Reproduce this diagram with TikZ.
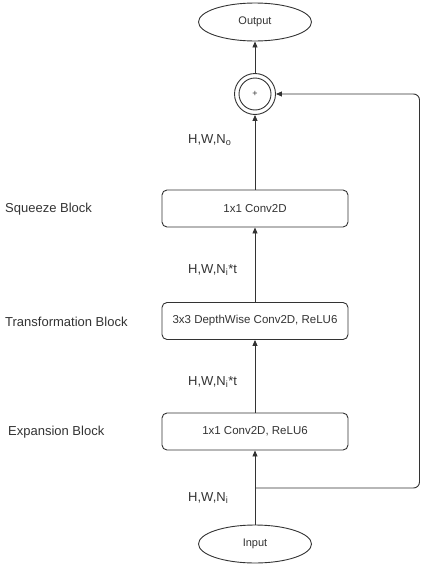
\documentclass[tikz,border=0pt]{standalone}
\usepackage{fontspec}
\setmainfont{Liberation Sans}
\usetikzlibrary{arrows.meta,shapes.geometric}
\definecolor{ln}{HTML}{333333}
\definecolor{tx}{HTML}{333333}
\begin{document}
\begin{tikzpicture}[x=1pt,y=-1pt,
  every node/.style={text=tx},
  blockbox/.style={draw=ln,line width=0.9pt,rounded corners=5pt,minimum width=186pt,minimum height=37pt,font=\fontsize{11.5}{13}\selectfont,inner sep=0pt},
  ell/.style={draw=ln,line width=0.9pt,ellipse,minimum width=113pt,minimum height=38pt,font=\fontsize{11}{13}\selectfont,inner sep=0pt},
  lbl/.style={font=\fontsize{13}{15}\selectfont,anchor=west,inner sep=0pt},
  dim/.style={font=\fontsize{13}{15}\selectfont,anchor=west,inner sep=0pt},
  arr/.style={draw=ln,line width=0.9pt,-{Triangle[length=6pt,width=5pt]}}
]
\useasboundingbox (0,0) rectangle (421,565);
\node[ell] (out) at (255,22) {Output};
\node[ell] (in) at (255,544) {Input};
\node[draw=ln,line width=0.9pt,circle,minimum size=41pt,inner sep=0pt] (plus) at (255,94) {};
\node[draw=ln,line width=0.9pt,circle,minimum size=32pt,inner sep=0pt,font=\fontsize{9}{10}\selectfont] (plusin) at (255,94) {+};
\node[blockbox] (sq) at (255,208.5) {1x1 Conv2D};
\node[blockbox] (tr) at (255,321) {3x3 DepthWise Conv2D, ReLU6};
\node[blockbox] (ex) at (255,431.5) {1x1 Conv2D, ReLU6};
\node[lbl] (lsq) at (5,209) {Squeeze Block};
\node[lbl] (ltr) at (5,322) {Transformation Block};
\node[lbl] (lex) at (8,432) {Expansion Block};
\node[dim] (d1) at (188,140) {H,W,N\textsubscript{o}};
\node[dim] (d2) at (188,270) {H,W,N\textsubscript{i}*t};
\node[dim] (d3) at (188,382) {H,W,N\textsubscript{i}*t};
\node[dim] (d4) at (188,498) {H,W,N\textsubscript{i}};
\coordinate (fb) at (255,488);
\draw[arr] (in) -- (ex);
\draw[arr] (ex) -- (tr);
\draw[arr] (tr) -- (sq);
\draw[arr] (sq) -- (plus);
\draw[arr] (plus) -- (out);
\draw[arr,rounded corners=6pt] (fb) -- (419.5,488) -- (419.5,94) -- (plus.east);
\end{tikzpicture}
\end{document}
